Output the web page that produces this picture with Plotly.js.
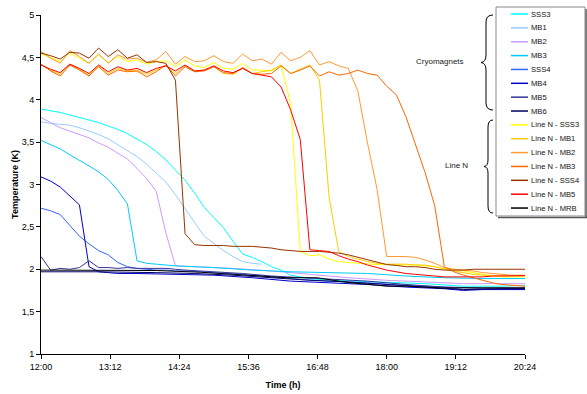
<!DOCTYPE html>
<html><head><meta charset="utf-8">
<script src="https://cdn.plot.ly/plotly-3.0.1.min.js"></script>
<style>html,body{margin:0;padding:0;background:#fff}#chart{width:587px;height:394px}</style>
</head><body><div id="chart"></div>
<script>
// ---- time grids (minutes after 12:00) ----
const tGrid = [0,10,20,30,40,50,60,70,80,90,100,110,120,130,140,150,160,170,180,190,200,210,220,230,240,250,260,270,280,290,300,310,320,330,340,350,360,370,380,390,400,410,420,430,440,450,460,470,480,490,500,504];
const tSSS3 = [0,10,20,30,40,50,60,70,80,90,100,110,120,130,140,150,160,170,180,190,200,210,220,230,240,250,260,280,300,330,360,400,440,480,504];
const tMB1 = [0,10,20,30,40,50,60,70,80,90,100,110,120,130,140,150,160,170,180,190,200,210,220,230];
const tMB2 = [0,10,20,30,40,50,60,70,80,90,100,110,120,130,140,160,180,200,240,280,320,360,400,440,480,504];
const tMB3 = [0,10,20,30,40,50,60,70,80,90,100,110,120,130,140,180,220,260,300,340,380,420,460,504];
const tSSS4 = [0,10,20,30,40,50,60,70,80,90,100,110,120,130,140,150,180,210,240,270,300,340,380,420,440,460,504];
const tMB4 = [0,10,20,30,40,50,60,70,80,100,140,180,220,260,300,340,380,420,440,460,504];
const tMB5 = [0,10,20,30,40,50,60,70,80,90,100,110,120,130,140,150,180,210,240,270,300,340,380,420,460,504];
const tMB6 = [0,60,120,160,200,240,280,320,360,400,440,480,504];
const tMRB = [0,60,120,166,200,235,256,287,322,343,360,381,416,460,504];

// ---- temperatures (K) ----
const vSSS3 = [3.89,3.87,3.85,3.82,3.79,3.76,3.73,3.69,3.65,3.60,3.54,3.47,3.39,3.29,3.17,3.05,2.90,2.73,2.61,2.49,2.33,2.18,2.14,2.09,2.03,1.99,1.93,1.89,1.87,1.86,1.85,1.83,1.80,1.80,1.81];
const vMB1 = [3.74,3.72,3.71,3.70,3.67,3.63,3.59,3.54,3.47,3.40,3.33,3.24,3.14,3.03,2.88,2.71,2.55,2.39,2.30,2.22,2.15,2.09,2.07,2.06];
const vMB2 = [3.79,3.73,3.67,3.63,3.59,3.55,3.49,3.44,3.37,3.30,3.19,3.07,2.92,2.43,2.04,2.03,2.02,2.01,1.98,1.94,1.90,1.87,1.85,1.83,1.83,1.83];
const vMB3 = [3.52,3.47,3.42,3.35,3.29,3.22,3.15,3.06,2.93,2.77,2.10,2.07,2.06,2.05,2.04,2.02,1.99,1.97,1.96,1.95,1.92,1.90,1.89,1.89];
const vSSS4 = [2.72,2.69,2.645,2.52,2.39,2.30,2.22,2.17,2.08,2.03,2.01,2.00,1.99,1.99,1.98,1.98,1.96,1.94,1.91,1.88,1.86,1.84,1.81,1.79,1.76,1.77,1.77];
const vMB4 = [3.09,3.04,2.97,2.87,2.76,2.03,1.97,1.96,1.95,1.95,1.94,1.93,1.90,1.86,1.84,1.82,1.79,1.77,1.75,1.76,1.76];
const vMB5 = [2.15,1.99,2.01,2.00,2.02,2.10,2.02,2.02,2.01,2.02,2.01,2.01,2.01,2.01,2.00,1.99,1.97,1.95,1.92,1.90,1.88,1.86,1.82,1.79,1.78,1.78];
const vMB6 = [1.97,1.97,1.96,1.95,1.93,1.90,1.87,1.85,1.82,1.79,1.76,1.77,1.77];
const vLnSSS3 = [4.54,4.50,4.45,4.55,4.49,4.43,4.53,4.44,4.51,4.45,4.47,4.42,4.45,4.46,4.39,4.47,4.40,4.38,4.44,4.37,4.36,4.43,4.35,4.35,4.34,4.41,3.95,2.21,2.16,2.17,2.12,2.09,2.08,2.07,2.06,2.055,2.055,2.055,2.055,2.05,2.04,2.03,2.01,2.00,1.98,1.96,1.94,1.92,1.91,1.91,1.91,1.91];
const vLnMB1 = [4.42,4.35,4.30,4.42,4.36,4.29,4.40,4.31,4.37,4.34,4.35,4.30,4.35,4.41,4.31,4.40,4.34,4.35,4.39,4.31,4.30,4.37,4.31,4.33,4.35,4.41,4.31,4.36,4.41,4.23,2.85,2.21,2.15,2.12,2.09,2.07,2.06,2.06,2.06,2.05,2.05,2.03,2.00,1.98,1.96,1.94,1.93,1.92,1.92,1.92,1.92,1.92];
const vLnMB2 = [4.57,4.49,4.43,4.58,4.51,4.43,4.54,4.43,4.53,4.48,4.49,4.44,4.47,4.57,4.42,4.51,4.45,4.46,4.52,4.45,4.43,4.54,4.46,4.48,4.42,4.56,4.46,4.50,4.58,4.41,4.45,4.40,4.37,4.10,3.49,2.94,2.15,2.15,2.15,2.14,2.11,2.07,2.02,2.00,1.99,1.98,1.96,1.95,1.94,1.93,1.93,1.93];
const vLnMB3 = [4.42,4.34,4.28,4.41,4.35,4.28,4.39,4.29,4.35,4.33,4.34,4.27,4.33,4.41,4.28,4.39,4.33,4.34,4.39,4.32,4.31,4.38,4.31,4.30,4.31,4.40,4.31,4.35,4.40,4.28,4.33,4.29,4.31,4.35,4.31,4.29,4.16,4.06,3.80,3.47,3.14,2.75,2.03,1.97,1.93,1.90,1.87,1.84,1.82,1.81,1.80,1.80];
const vLnSSS4 = [4.55,4.52,4.48,4.56,4.55,4.49,4.61,4.51,4.59,4.49,4.53,4.44,4.45,4.43,4.23,2.42,2.29,2.28,2.28,2.28,2.27,2.27,2.27,2.26,2.25,2.23,2.22,2.21,2.21,2.21,2.20,2.19,2.17,2.14,2.11,2.08,2.055,2.045,2.03,2.03,2.02,2.00,1.99,1.99,1.99,2.00,2.00,2.00,2.00,2.00,2.00,2.00];
const vLnMB5 = [4.41,4.36,4.32,4.42,4.37,4.31,4.41,4.33,4.39,4.35,4.37,4.32,4.37,4.40,4.34,4.41,4.34,4.35,4.40,4.34,4.32,4.37,4.31,4.29,4.27,4.15,3.88,3.53,2.23,2.22,2.21,2.16,2.12,2.09,2.05,2.02,1.99,1.97,1.95,1.94,1.93,1.92,1.91,1.91,1.91,1.91,1.91,1.92,1.92,1.92,1.92,1.925];
const vLnMRB = [1.99,1.99,1.985,1.965,1.94,1.91,1.90,1.90,1.84,1.82,1.80,1.80,1.78,1.78,1.78];

const names = ['SSS3','MB1','MB2','MB3','SSS4','MB4','MB5','MB6','Line N - SSS3','Line N - MB1','Line N - MB2','Line N - MB3','Line N - SSS4','Line N - MB5','Line N - MRB'];
const colors = ['#00FFFF','#99CCFF','#CC99FF','#00CCFF','#3366FF','#0000CC','#333399','#000066','#FFFF00','#FFCC00','#FF9933','#FF6600','#993300','#FF0000','#000000'];
const xs = [tSSS3,tMB1,tMB2,tMB3,tSSS4,tMB4,tMB5,tMB6,tGrid,tGrid,tGrid,tGrid,tGrid,tGrid,tMRB];
const ys = [vSSS3,vMB1,vMB2,vMB3,vSSS4,vMB4,vMB5,vMB6,vLnSSS3,vLnMB1,vLnMB2,vLnMB3,vLnSSS4,vLnMB5,vLnMRB];
const groupLabels = ['Cryomagnets','Line N'];
const yTickVals = [1,1.5,2,2.5,3,3.5,4,4.5,5];
const yTickText = ['1','1,5','2','2,5','3','3,5','4','4,5','5'];

// ---- geometry ----
const W=587,H=394,L=41,R=62,T=15,B=40;
const pw=W-L-R, ph=H-T-B;
const px=x=>(x-L)/pw, py=y=>(H-B-y)/ph;
const pad=n=>String(n).padStart(2,'0');
const toDate=m=>'2000-01-01 '+pad(12+Math.floor(m/60))+':'+pad(m%60);

const traces = names.map((n,i)=>({
  type:'scatter', mode:'lines', name:n,
  x: xs[i].map(toDate), y: ys[i],
  line:{color:colors[i], width:1}, showlegend:false, hoverinfo:'skip'
}));

const FONT='"Liberation Sans", Arial, sans-serif';
const shapes=[], annotations=[];
// legend box with shadow
shapes.push({type:'line',xref:'paper',yref:'paper',x0:px(586),x1:px(586),y0:py(9),y1:py(218),line:{color:'#555',width:1.5}});
shapes.push({type:'line',xref:'paper',yref:'paper',x0:px(498),x1:px(587),y0:py(217.5),y1:py(217.5),line:{color:'#555',width:1.5}});
shapes.push({type:'rect',xref:'paper',yref:'paper',x0:px(496),x1:px(585),y0:py(7),y1:py(216),line:{color:'#888',width:1},fillcolor:'rgba(0,0,0,0)'});
names.forEach((n,i)=>{
  const yy=14+13.86*i;
  shapes.push({type:'line',xref:'paper',yref:'paper',x0:px(511),x1:px(528),y0:py(yy),y1:py(yy),line:{color:colors[i],width:1.5}});
  annotations.push({xref:'paper',yref:'paper',x:px(528.5),y:py(yy),xanchor:'left',yanchor:'middle',showarrow:false,text:n,font:{family:FONT,size:7.6,color:'#111'}});
});
// braces
function pathFrom(cmds){
  return cmds.map(c=>c[0]+' '+c.slice(1).map((v,j)=>j%2===0?px(v):py(v)).join(' ')).join(' ');
}
const brace1=[['M',493,15],['Q',486,15,486,22],['L',486,55],['Q',486,62,481,62.5],['Q',486,63,486,70],['L',486,103],['Q',486,110,493,110]];
const brace2=[['M',493,120],['Q',488,120,488,127],['L',488,160],['Q',488,166,484,166.5],['Q',488,167,488,173],['L',488,206],['Q',488,213,493,213]];
[brace1,brace2].forEach(b=>shapes.push({type:'path',xref:'paper',yref:'paper',path:pathFrom(b),line:{color:'#000',width:1}}));
annotations.push({xref:'paper',yref:'paper',x:px(466),y:py(62),xanchor:'right',yanchor:'middle',showarrow:false,text:groupLabels[0],font:{family:FONT,size:8,color:'#222'}});
annotations.push({xref:'paper',yref:'paper',x:px(470),y:py(166),xanchor:'right',yanchor:'middle',showarrow:false,text:groupLabels[1],font:{family:FONT,size:8,color:'#222'}});

const layout={
  width:W,height:H,margin:{l:L,r:R,t:T,b:B,autoexpand:false},
  paper_bgcolor:'#fff',plot_bgcolor:'#fff',
  font:{family:FONT,size:9,color:'#000'},
  showlegend:false,
  xaxis:{type:'date',range:[toDate(0),toDate(504)],tick0:toDate(0),dtick:72*60*1000,tickformat:'%H:%M',
    ticks:'outside',ticklen:4,tickcolor:'#000',showline:true,linecolor:'#000',linewidth:1,showgrid:false,zeroline:false,
    tickfont:{family:FONT,size:9,color:'#000'},
    title:{text:'<b>Time (h)</b>',font:{family:FONT,size:9,color:'#000'},standoff:10}},
  yaxis:{range:[1,5],tickmode:'array',tickvals:yTickVals,ticktext:yTickText,ticks:'outside',ticklen:4,tickcolor:'#000',showline:true,linecolor:'#000',linewidth:1,
    showgrid:false,zeroline:false,tickfont:{family:FONT,size:9,color:'#000'},
    title:{text:'<b>Temperature (K)</b>',font:{family:FONT,size:9,color:'#000'},standoff:1}},
  shapes:shapes,annotations:annotations
};
Plotly.newPlot('chart',traces,layout,{staticPlot:true,displayModeBar:false});
</script></body></html>
